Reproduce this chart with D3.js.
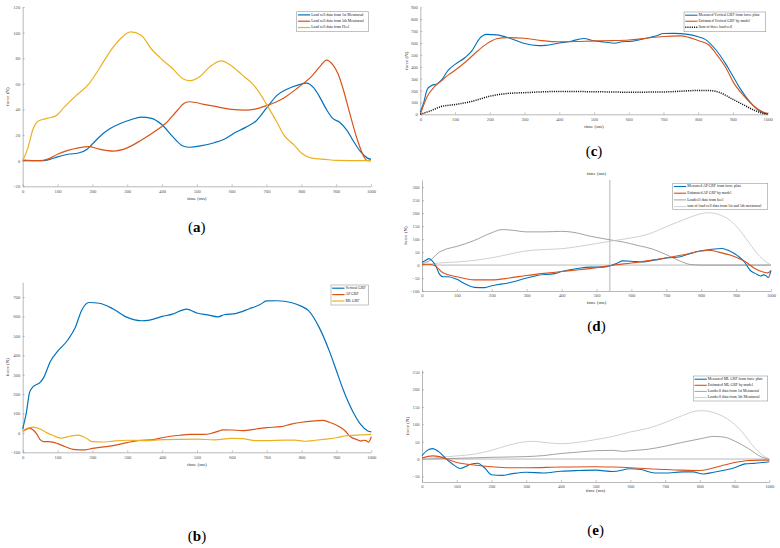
<!DOCTYPE html>
<html>
<head>
<meta charset="utf-8">
<script src="https://cdn.jsdelivr.net/npm/d3@7"></script>
<style>
  body { margin: 0; background: #fff; }
  svg { display: block; }
</style>
</head>
<body>
<div id="fig"></div>
<script>
// all panels share the same time base (ms)
const xTicks = d3.range(0, 1001, 100);

// (a) raw load cell signals [time, force]
const aFirstMet = [[0,0],[50,0],[70,0.5],[100,3],[130,5],[160,6],[185,9],[200,13],[230,21],[250,25],[280,29],[310,32],[340,34],[370,33],[400,28],[430,19],[460,11.5],[480,10.5],[510,11.5],[550,14],[580,17],[610,22],[640,26],[670,31],[700,41],[730,51],[760,56],[790,59],[815,60.5],[835,57],[850,51],[870,41],[890,33],[910,30],[930,24],[950,15],[970,7],[990,2],[1000,1]];
const aFifthMet = [[0,0.5],[50,0],[70,1],[100,5],[130,8],[160,10],[190,11],[220,9],[260,7.5],[300,10],[340,16],[380,23],[410,29],[440,38],[465,45],[480,46],[520,44],[560,42],[600,40],[640,39.5],[670,40.5],[700,43],[750,49],[790,57],[830,66],[855,74],[872,78.5],[890,75],[905,68],[920,56],[940,36],[960,17],[980,3],[990,0],[1000,0]];
const aHeel = [[0,0],[15,10],[30,25],[45,31],[70,33],[95,35],[120,42],[150,50],[190,60],[220,72],[250,85],[280,95],[310,100.5],[340,98],[370,87],[400,79],[430,72],[460,64],[480,62.5],[510,66],[540,74],[570,78],[600,74],[630,67],[660,60],[680,53],[700,44],[730,30],[750,20],[780,12],[800,6],[830,2],[870,1],[900,0.3],[1000,0]];

// (b) force plate GRF components
const bVertical = [[0,20],[10,100],[20,210],[30,238],[50,260],[60,285],[80,370],[100,420],[130,480],[150,540],[170,635],[190,672],[220,668],[260,638],[300,595],[340,578],[360,580],[400,600],[430,612],[470,638],[500,618],[530,608],[560,598],[580,610],[610,615],[650,640],[680,660],[700,680],[730,681],[770,672],[800,652],[820,630],[850,545],[880,420],[900,320],[920,220],[950,100],[970,42],[990,10],[1000,5]];
const bAP = [[0,10],[10,18],[20,25],[30,15],[40,-5],[50,-35],[60,-45],[75,-45],[100,-55],[120,-70],[150,-86],[180,-87],[200,-80],[250,-68],[300,-50],[330,-40],[380,-33],[400,-25],[450,-12],[480,-8],[520,-8],[540,-3],[560,8],[575,16],[600,15],[630,12],[670,20],[700,27],[740,32],[770,45],[800,55],[830,61],[860,64],[880,55],[910,30],[925,10],[940,-20],[955,-32],[970,-42],[978,-38],[985,-40],[992,-48],[1000,-20]];
const bML = [[0,10],[15,25],[30,30],[50,20],[70,0],[85,-12],[110,-27],[140,-15],[160,-12],[180,-25],[200,-45],[230,-47],[260,-42],[300,-38],[350,-40],[400,-35],[450,-33],[500,-32],[550,-36],[600,-28],[630,-30],[670,-40],[700,-40],[750,-37],[780,-37],[810,-43],[840,-38],[870,-32],[900,-25],[930,-14],[960,-12],[980,-10],[1000,-8]];

// (c) vertical GRF model
const cEstimated = [[0,0],[20,150],[40,230],[60,280],[80,330],[100,370],[130,440],[160,520],[190,590],[220,635],[250,645],[300,640],[350,620],[400,610],[450,612],[500,618],[550,620],[600,625],[650,640],[700,655],[750,660],[800,620],[830,585],[850,515],[880,390],[900,275],[930,160],[960,70],[990,15],[1000,8]];
const cLoadSum = [[0,0],[30,30],[60,65],[100,82],[150,110],[200,152],[250,175],[300,182],[400,192],[500,190],[600,186],[700,188],[800,200],[830,200],[860,185],[900,125],[930,80],[960,36],[990,5],[1000,0]];

// (d) AP GRF model
const dEstimated = [[0,2],[20,3],[40,-5],[60,-30],[100,-45],[150,-57],[200,-57],[250,-50],[300,-40],[350,-32],[400,-25],[450,-18],[500,-10],[550,0],[600,8],[650,17],[700,28],[750,40],[800,54],[820,57],[850,50],[900,30],[930,10],[950,-10],[980,-28],[990,-30],[1000,-22]];
const dHeel = [[0,5],[20,15],[50,50],[70,62],[100,72],[150,95],[200,125],[230,137],[260,134],[300,128],[350,128],[400,130],[430,127],[480,112],[540,97],[580,88],[620,75],[660,62],[700,40],[740,15],[770,2],[800,0],[1000,0]];
const dMetSum = [[0,0],[50,8],[100,12],[150,18],[200,28],[250,42],[300,55],[350,60],[400,63],[450,72],[500,83],[540,92],[600,105],[650,120],[700,148],[750,175],[800,198],[820,202],[850,195],[880,175],[910,135],[930,100],[960,45],[990,8],[1000,0]];
const dMarker = 538;

// (e) ML GRF model
const eEstimated = [[0,3],[30,9],[50,7],[70,0],[100,-10],[150,-17],[200,-22],[250,-25],[300,-25],[400,-23],[500,-22],[550,-23],[600,-25],[650,-28],[700,-30],[750,-32],[800,-33],[830,-28],[860,-20],[900,-10],[940,-4],[980,-3],[1000,-3]];
const eFirstMet = [[0,0],[100,2],[200,5],[300,7],[350,10],[400,16],[450,20],[500,24],[550,25],[580,22],[600,24],[650,28],[700,37],[750,48],[800,58],[840,65],[870,63],[900,52],[940,30],[980,5],[1000,0]];
const eFifthMet = [[0,0],[50,5],[100,9],[150,14],[200,25],[250,40],[300,50],[320,51],[350,48],[400,44],[450,48],[500,56],[550,65],[600,78],[650,88],[700,105],[750,125],[790,138],[810,139],[850,130],[880,115],[920,80],[960,30],[990,5],[1000,0]];

const BLUE = '#0072BD', ORANGE = '#D95319', YELLOW = '#EDB120';
const DARKGRAY = '#8a8a8a', LIGHTGRAY = '#c4c4c4';
const FONT = '"Liberation Serif", "DejaVu Serif", serif';
const fmt = d3.format('d');

const panels = [
  { letter: 'a', x0: 22.7, x1: 371, yTop: 7, yBot: 186.3, yDomain: [-20, 120], yTicks: d3.range(-20, 121, 20),
    xLabelY: 198.7, yLabelX: 8, letterY: 232,
    legend: { x: 296.7, y: 11.7, w: 71.6, h: 20, step: 6.3 },
    series: [
      { name: 'Load cell data from 1st Metatarsal', data: aFirstMet, color: BLUE, width: 1.2 },
      { name: 'Load cell data from 5th Metatarsal', data: aFifthMet, color: ORANGE, width: 1.2 },
      { name: 'Load cell data from Heel', data: aHeel, color: YELLOW, width: 1.2 }
    ] },
  { letter: 'b', x0: 22.7, x1: 371.3, yTop: 282.3, yBot: 452.3, yDomain: [-100, 776], yTicks: d3.range(-100, 701, 100),
    xLabelY: 465, yLabelX: 7.5, letterY: 541,
    legend: { x: 331, y: 285, w: 37.3, h: 20, step: 6.4 },
    series: [
      { name: 'Vertical GRF', data: bVertical, color: BLUE, width: 1.2 },
      { name: 'AP GRF', data: bAP, color: ORANGE, width: 1.2 },
      { name: 'ML GRF', data: bML, color: YELLOW, width: 1.2 }
    ] },
  { letter: 'c', x0: 420.3, x1: 767.7, yTop: 7.3, yBot: 114.3, yDomain: [0, 900], yTicks: d3.range(0, 901, 100),
    xLabelY: 126.7, yLabelX: 406.7, letterY: 155.5,
    legend: { x: 684, y: 12, w: 81.7, h: 19.7, step: 6 },
    series: [
      { name: 'Measured Vertical GRF from force plate', data: bVertical, color: BLUE, width: 1.1 },
      { name: 'Estimated Vertical GRF by model', data: cEstimated, color: ORANGE, width: 1.1 },
      { name: 'Sum of three load cell', data: cLoadSum, color: '#111', width: 1.5, dash: '1.1,1.1' }
    ] },
  { letter: 'd', x0: 422, x1: 771, yTop: 180, yBot: 291, yDomain: [-100, 328], yTicks: d3.range(-100, 301, 50),
    xLabelY: 302.7, yLabelX: 406, letterY: 331, topTitle: 174, zeroLine: true, marker: dMarker,
    legend: { x: 672.7, y: 183.3, w: 95, h: 26, step: 6.7 },
    series: [
      { name: 'Measured AP GRF from force plate', data: bAP, color: BLUE, width: 1.1 },
      { name: 'Estimated AP GRF by model', data: dEstimated, color: ORANGE, width: 1.1 },
      { name: 'Loadcell data from heel', data: dHeel, color: DARKGRAY, width: 0.8 },
      { name: 'sum of load cell data from 1st and 5th metatarsal', data: dMetSum, color: LIGHTGRAY, width: 0.8 }
    ] },
  { letter: 'e', x0: 422, x1: 769.3, yTop: 370, yBot: 482, yDomain: [-66, 256], yTicks: d3.range(-50, 251, 50),
    xLabelY: 491, yLabelX: 408.3, letterY: 534.5, zeroLine: true,
    legend: { x: 693.3, y: 376, w: 74.4, h: 25, step: 6.1 },
    series: [
      { name: 'Measured ML GRF from force plate', data: bML, color: BLUE, width: 1.1 },
      { name: 'Estimated ML GRF by model', data: eEstimated, color: ORANGE, width: 1.1 },
      { name: 'Loadcell data from 1st Metatarsal', data: eFirstMet, color: DARKGRAY, width: 0.8 },
      { name: 'Loadcell data from 5th Metatarsal', data: eFifthMet, color: LIGHTGRAY, width: 0.8 }
    ] }
];

const svg = d3.select('#fig').append('svg')
  .attr('width', 780)
  .attr('height', 548)
  .attr('viewBox', '0 0 780 548');

panels.forEach(p => {
  const x = d3.scaleLinear().domain([0, 1000]).range([p.x0, p.x1]);
  const y = d3.scaleLinear().domain(p.yDomain).range([p.yBot, p.yTop]);
  const g = svg.append('g').attr('class', 'panel-' + p.letter);

  // axes (MATLAB style: inward ticks, no box)
  const xAxis = g.append('g')
    .attr('transform', `translate(0,${p.yBot})`)
    .call(d3.axisBottom(x).tickValues(xTicks).tickFormat(fmt).tickSizeInner(-2).tickSizeOuter(0).tickPadding(3));
  const yAxis = g.append('g')
    .attr('transform', `translate(${p.x0},0)`)
    .call(d3.axisLeft(y).tickValues(p.yTicks).tickFormat(fmt).tickSizeInner(-2).tickSizeOuter(0).tickPadding(2.5));
  [xAxis, yAxis].forEach(a => {
    a.select('.domain').attr('stroke', '#888').attr('stroke-width', 0.6);
    a.selectAll('.tick line').attr('stroke', '#888').attr('stroke-width', 0.5);
    a.selectAll('.tick text').attr('fill', '#555').style('font-family', FONT).style('font-size', '4.6px');
  });

  if (p.zeroLine) {
    g.append('line')
      .attr('x1', x(0)).attr('x2', x(1000))
      .attr('y1', y(0)).attr('y2', y(0))
      .attr('stroke', '#a8a8a8').attr('stroke-width', 0.8);
  }
  if (p.marker != null) {
    g.append('line')
      .attr('x1', x(p.marker)).attr('x2', x(p.marker))
      .attr('y1', p.yTop).attr('y2', p.yBot)
      .attr('stroke', '#cfcfcf').attr('stroke-width', 1.6);
  }

  const line = d3.line()
    .x(d => x(d[0]))
    .y(d => y(d[1]))
    .curve(d3.curveMonotoneX);

  // gray reference curves go underneath the GRF curves
  const order = p.series.map((s, i) => i).sort((a, b) => (p.series[a].width < 1 ? -1 : 0) - (p.series[b].width < 1 ? -1 : 0));
  order.forEach(i => {
    const s = p.series[i];
    g.append('path')
      .datum(s.data)
      .attr('fill', 'none')
      .attr('stroke', s.color)
      .attr('stroke-width', s.width)
      .attr('stroke-dasharray', s.dash || null)
      .attr('stroke-linejoin', 'round')
      .attr('d', line);
  });

  // axis titles
  const cx = (p.x0 + p.x1) / 2;
  g.append('text')
    .attr('x', cx).attr('y', p.xLabelY)
    .attr('text-anchor', 'middle')
    .attr('dominant-baseline', 'middle')
    .style('font-family', FONT).style('font-size', '5px').attr('fill', '#333')
    .text('time (ms)');
  if (p.topTitle) {
    g.append('text')
      .attr('x', cx).attr('y', p.topTitle)
      .attr('text-anchor', 'middle')
      .attr('dominant-baseline', 'middle')
      .style('font-family', FONT).style('font-size', '5px').attr('fill', '#333')
      .text('time (ms)');
  }
  g.append('text')
    .attr('transform', `translate(${p.yLabelX},${(p.yTop + p.yBot) / 2}) rotate(-90)`)
    .attr('text-anchor', 'middle')
    .attr('dominant-baseline', 'middle')
    .style('font-family', FONT).style('font-size', '5px').attr('fill', '#333')
    .text('force (N)');

  // legend
  const L = p.legend;
  const lg = g.append('g').attr('class', 'legend');
  lg.append('rect')
    .attr('x', L.x).attr('y', L.y).attr('width', L.w).attr('height', L.h)
    .attr('fill', '#fff').attr('stroke', '#999').attr('stroke-width', 0.6);
  p.series.forEach((s, i) => {
    const ly = L.y + 3.2 + i * L.step;
    lg.append('line')
      .attr('x1', L.x + 1.2).attr('x2', L.x + 13.5)
      .attr('y1', ly).attr('y2', ly)
      .attr('stroke', s.color)
      .attr('stroke-width', s.width)
      .attr('stroke-dasharray', s.dash || null);
    lg.append('text')
      .attr('x', L.x + 14.5).attr('y', ly)
      .attr('dominant-baseline', 'middle')
      .style('font-family', FONT).style('font-size', '3.8px').attr('fill', '#222')
      .text(s.name);
  });

  // panel letter, e.g. "(a)" with bold letter
  const t = g.append('text')
    .attr('x', cx).attr('y', p.letterY)
    .attr('text-anchor', 'middle')
    .style('font-family', FONT).style('font-size', '15px').attr('fill', '#000');
  t.append('tspan').text('(');
  t.append('tspan').style('font-weight', 'bold').text(p.letter);
  t.append('tspan').text(')');
});
</script>
</body>
</html>
